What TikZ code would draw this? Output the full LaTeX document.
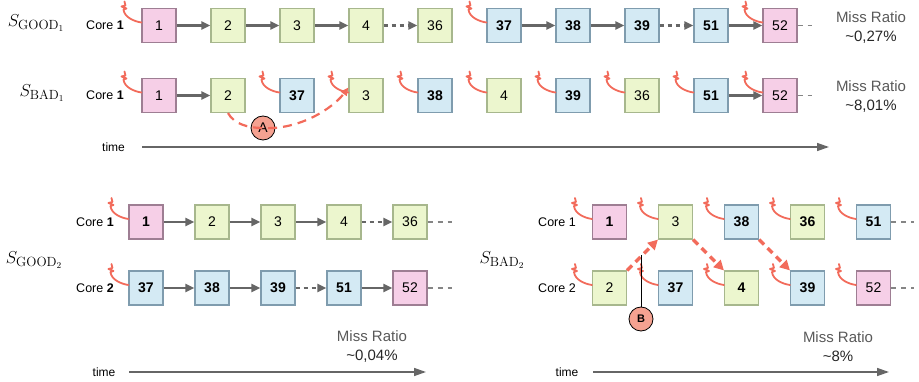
\documentclass[tikz,border=0pt]{standalone}
\usepackage{fontspec}
\setsansfont{Liberation Sans}
\usetikzlibrary{arrows.meta,calc}

\definecolor{fillpk}{HTML}{F6CFE7}
\definecolor{linepk}{HTML}{9E7E93}
\definecolor{fillgr}{HTML}{ECF6CE}
\definecolor{linegr}{HTML}{A7B78D}
\definecolor{fillbl}{HTML}{D4EAF4}
\definecolor{linebl}{HTML}{7F9CAE}
\definecolor{flowgray}{HTML}{666666}
\definecolor{zapred}{HTML}{F26B5B}
\definecolor{markfill}{HTML}{F5A291}

\tikzset{
  task/.style={draw, line width=1.1pt, minimum size=34pt, inner sep=0pt,
    font=\sffamily\fontsize{14}{14}\selectfont},
  box/.style={task, fill=fill#1, draw=line#1},
  flowarrow/.style={draw=flowgray, line width=2.4pt, -{Triangle[length=9pt,width=8pt]}},
  flowskip/.style={dash pattern=on 4pt off 4pt},
  flowtail/.style={draw=flowgray!80, line width=1.5pt, dash pattern=on 5pt off 5pt},
  zap/.style={draw=zapred, line width=1.8pt, line cap=round, line join=round},
  swapline/.style={draw=zapred, line width=2.2pt, dash pattern=on 9pt off 6pt,
    -{Triangle[length=8pt,width=7pt]}},
  migrate/.style={draw=zapred, line width=3.5pt, dash pattern=on 7pt off 5pt,
    -{Triangle[length=10pt,width=10pt]}},
  marker/.style={circle, draw=black, line width=0.8pt, fill=markfill, minimum size=24pt,
    inner sep=0pt, font=\sffamily\fontsize{14}{14}\selectfont},
  corelabel/.style={font=\sffamily\fontsize{12.5}{12.5}\selectfont},
  schedname/.style={font=\fontsize{19}{19}\selectfont},
  ratio/.style={align=center, font=\sffamily\fontsize{15}{19}\selectfont, text=black!65},
  timelabel/.style={font=\sffamily\fontsize{12}{12}\selectfont},
  timeline/.style={draw=flowgray, line width=1.5pt, -{Triangle[length=12pt,width=8pt]}},
}

% preemption mark on the left of a task
\newcommand{\zapnode}[1]{%
  \draw[zap] ([shift={(-17,-24)}]#1.west) -- ++(1,4) -- ++(-4,1) -- ++(5,2) -- ++(-3,1)
    .. controls +(1,8) and +(-7,-1) .. ([shift={(0,-3)}]#1.west);}

\begin{document}
\begin{tikzpicture}[x=1pt,y=-1pt]
\useasboundingbox (0,0) rectangle (919,382);

%% one core, good order
\node[schedname] (sg1) at (36,23) {$S_{\mathrm{GOOD}_1}$};
\node[corelabel] (cg1) at (105,25) {Core \textbf{1}};
\foreach \t/\s [count=\i] in {1/pk,2/gr,3/gr,4/gr,36/gr,\bfseries 37/bl,\bfseries 38/bl,
    \bfseries 39/bl,\bfseries 51/bl,52/pk}
  \node[box=\s] (ga\i) at ({159+69*(\i-1)},25.5) {\t};
\foreach \a/\b in {1/2,2/3,3/4,6/7,7/8,9/10}
  \draw[flowarrow] (ga\a) -- (ga\b);
\foreach \a/\b in {4/5,8/9}
  \draw[flowarrow,flowskip] (ga\a) -- (ga\b);
\draw[flowtail] (ga10.east) -- ++(14,0);
\foreach \i in {1,6,10}{
  \zapnode{ga\i}
}
\node[ratio] (rg1) at (871,27.5) {Miss Ratio\\\textcolor{black!85}{\textasciitilde0,27\%}};

%% one core, bad order
\node[schedname] (sb1) at (42,93) {$S_{\mathrm{BAD}_1}$};
\node[corelabel] (cb1) at (105,95) {Core \textbf{1}};
\foreach \t/\s [count=\i] in {1/pk,2/gr,\bfseries 37/bl,3/gr,\bfseries 38/bl,4/gr,
    \bfseries 39/bl,36/gr,\bfseries 51/bl,52/pk}
  \node[box=\s] (ba\i) at ({159+69*(\i-1)},95.5) {\t};
\draw[flowarrow] (ba1) -- (ba2);
\draw[flowarrow] (ba9) -- (ba10);
\draw[flowtail] (ba10.east) -- ++(14,0);
\foreach \i in {1,3,4,5,6,7,8,9,10}{
  \zapnode{ba\i}
}
\node[marker] (mA) at (263,128) {A};
\draw[swapline] (ba2.south) .. controls (234,124) and (248,128) .. (mA.center)
  .. controls (300,130) and (333,108) .. ([shift={(0,-8)}]ba4.west);
\node[ratio] (rb1) at (871,96.5) {Miss Ratio\\\textcolor{black!85}{\textasciitilde8,01\%}};

\node[timelabel] (tm1) at (113.5,147) {time};
\coordinate (tm1s) at (142,147);
\coordinate (tm1e) at (829,147);
\draw[timeline] (tm1s) -- (tm1e);

%% two cores, good order
\node[schedname] (sg2) at (34,260) {$S_{\mathrm{GOOD}_2}$};
\node[corelabel] (cg21) at (95,222) {Core \textbf{1}};
\node[corelabel] (cg22) at (95,288) {Core \textbf{2}};
\foreach \t/\s [count=\i] in {\bfseries 1/pk,2/gr,3/gr,4/gr,36/gr}
  \node[box=\s] (gc1-\i) at ({146+66*(\i-1)},222) {\t};
\foreach \t/\s [count=\i] in {\bfseries 37/bl,\bfseries 38/bl,\bfseries 39/bl,\bfseries 51/bl,52/pk}
  \node[box=\s] (gc2-\i) at ({146+66*(\i-1)},288) {\t};
\foreach \a/\b in {1/2,2/3,3/4}
  \draw[flowarrow] (gc1-\a) -- (gc1-\b);
\draw[flowarrow,flowskip] (gc1-4) -- (gc1-5);
\foreach \a/\b in {1/2,2/3,4/5}
  \draw[flowarrow] (gc2-\a) -- (gc2-\b);
\draw[flowarrow,flowskip] (gc2-3) -- (gc2-4);
\draw[flowtail] (gc1-5.east) -- ++(24,0);
\draw[flowtail] (gc2-5.east) -- ++(24,0);
\zapnode{gc1-1}
\zapnode{gc2-1}
\node[ratio] (rg2) at (372,346.5) {Miss Ratio\\\textcolor{black!85}{\textasciitilde0,04\%}};

\node[timelabel] (tm2) at (104,372) {time};
\coordinate (tm2s) at (129,372);
\coordinate (tm2e) at (426,372);
\draw[timeline] (tm2s) -- (tm2e);

%% two cores, bad order
\node[schedname] (sb2) at (502,260) {$S_{\mathrm{BAD}_2}$};
\node[corelabel] (cb21) at (557,222) {Core 1};
\node[corelabel] (cb22) at (557,288) {Core 2};
\foreach \t/\s [count=\i] in {\bfseries 1/pk,3/gr,\bfseries 38/bl,\bfseries 36/gr,\bfseries 51/bl}
  \node[box=\s] (bc1-\i) at ({609.5+66*(\i-1)},222) {\t};
\foreach \t/\s [count=\i] in {2/gr,\bfseries 37/bl,\bfseries 4/gr,\bfseries 39/bl,52/pk}
  \node[box=\s] (bc2-\i) at ({609.5+66*(\i-1)},288) {\t};
\foreach \i in {1,...,5}{
  \zapnode{bc1-\i}
  \zapnode{bc2-\i}
}
\draw[flowtail] (bc1-5.east) -- ++(23,0);
\draw[flowtail] (bc2-5.east) -- ++(23,0);
\draw[migrate] (bc2-1.north east) -- (bc1-2.south west);
\draw[migrate] (bc1-2.south east) -- (bc2-3.north west);
\draw[migrate] (bc1-3.south east) -- (bc2-4.north west);
\coordinate (mid) at ($(bc2-1.north east)!0.5!(bc1-2.south west)$);
\node[marker,font=\sffamily\bfseries\fontsize{11}{11}\selectfont] (mB) at (641,319) {B};
\draw[line width=0.8pt] (mB.north) -- (mB.north |- mid);
\node[ratio] (rb2) at (838,346.5) {Miss Ratio\\\textcolor{black!85}{\textasciitilde8\%}};

\node[timelabel] (tm3) at (567,372) {time};
\coordinate (tm3s) at (593,372);
\coordinate (tm3e) at (889,372);
\draw[timeline] (tm3s) -- (tm3e);
\end{tikzpicture}
\end{document}
